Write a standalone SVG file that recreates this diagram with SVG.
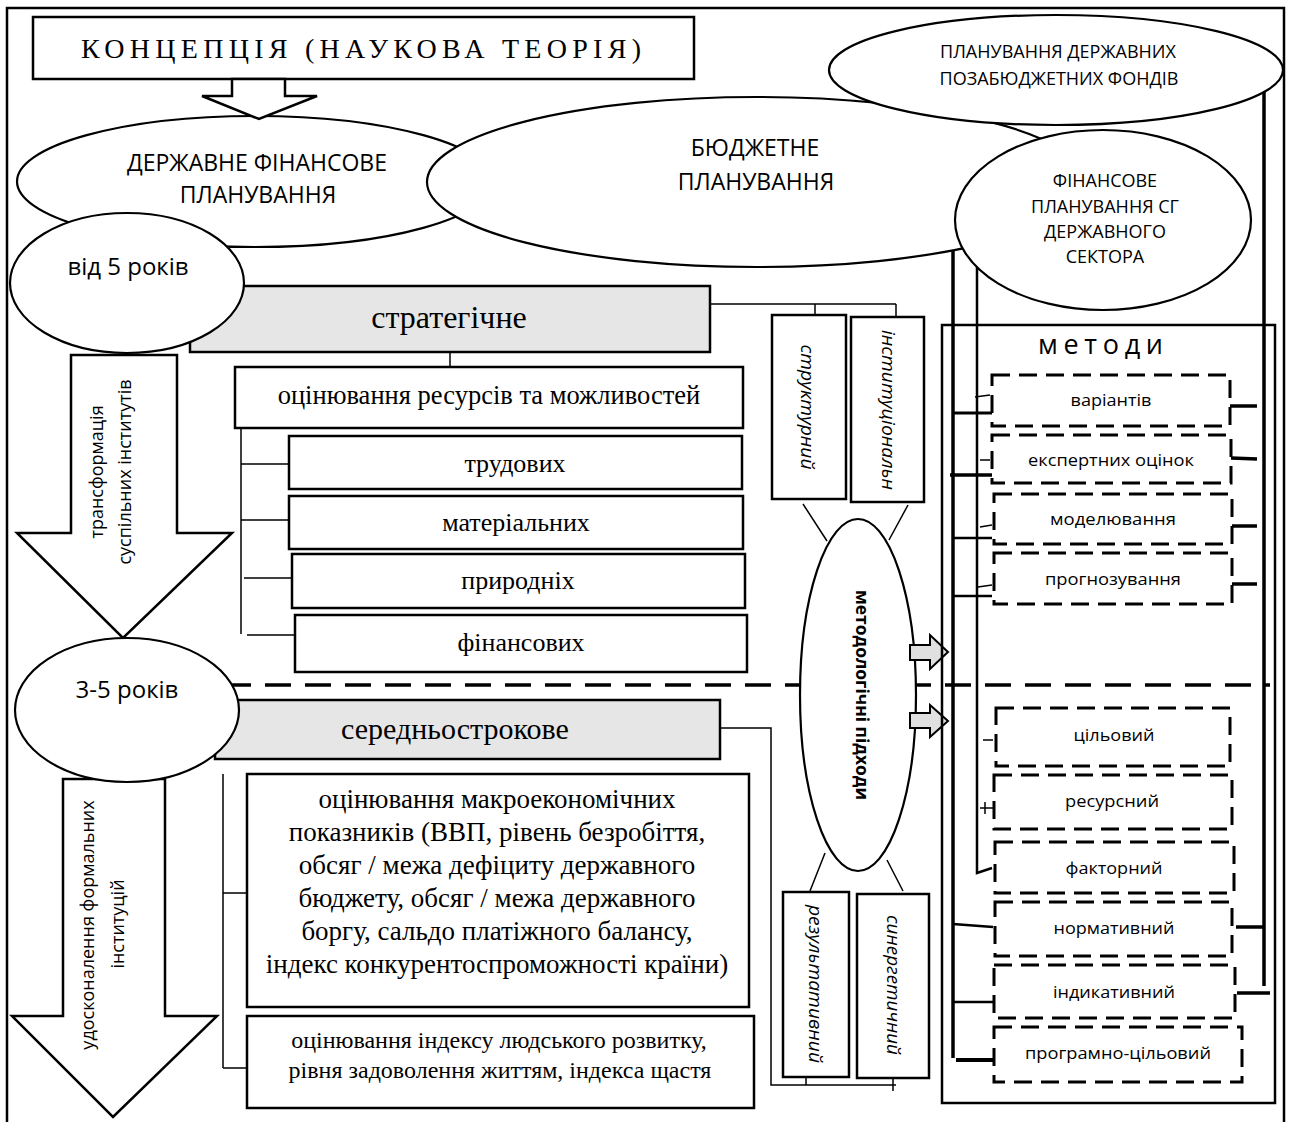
<svg xmlns="http://www.w3.org/2000/svg" width="1292" height="1122" viewBox="0 0 1292 1122">
<style>
.bx{fill:#fff;stroke:#000;stroke-width:2.5}
.gb{fill:#e6e6e6;stroke:#000;stroke-width:2.5}
.el{fill:#fff;stroke:#000;stroke-width:2.2}
.ds{fill:#fff;stroke:#000;stroke-width:3;stroke-dasharray:18 9}
.ln{stroke:#000;fill:none;stroke-width:1.5}
.th{stroke:#000;fill:none;stroke-width:3.5}
.md{stroke:#000;fill:none;stroke-width:2.5}
.ga{fill:#e0e0e0;stroke:#000;stroke-width:2}
.s{font-family:"Open Sans","Noto Sans","DejaVu Sans",sans-serif;fill:#000}
.r{font-family:"Liberation Serif","Times New Roman",serif;fill:#000}
.c{text-anchor:middle}
.i{font-style:italic}
</style>
<rect width="1292" height="1122" fill="#fff"/>
<g id="frame"><path d="M7,1122 V8 H1284 V1122" fill="none" stroke="#000" stroke-width="2.5"/></g>

<g id="connectors">
<path class="ln" d="M710,304 H896 M815,304 V316 M896,304 V318"/>
<path class="ln" d="M450,352 V367"/>
<path class="ln" d="M241,428 V634 M241,464 H289 M241,520 H289 M244,578 H292 M247,635 H295"/>
<path class="ln" d="M803,504 L827,541 M908,505 L889,540 M825,853 L810,891 M887,860 L903,891"/>
<path class="ln" d="M720,728 H771 V1085 H896 M806,1085 V1077 M893,1078 V1091"/>
<path class="ln" d="M223,774 V1068 M223,893 H247 M223,1068 H247"/>
<path d="M225,685 H1270" stroke="#000" stroke-width="3.5" stroke-dasharray="26 14" fill="none"/>
<path class="th" d="M953,250 V1058"/>
<path class="md" d="M977,267 V873 L992,868"/>
<path class="th" d="M1264,92 V986"/>
<path stroke="#000" stroke-width="3" d="M953,413 H992"/>
<path class="th" d="M950,475 H992"/>
<path class="md" d="M953,538 H992 M953,596 H992 M953,924 L993,927 M953,1002 H993"/>
<path stroke="#000" stroke-width="4" d="M956,1060 H993"/>
<path class="ln" d="M975,397 L990,395 M980,460 H990 M980,527 L992,525 M978,587 L992,585 M983,740 H993 M980,808 H995 M985,802 V814"/>
<path class="th" d="M1230,406 H1257 M1231,458 L1257,459 M1232,526 H1257 M1232,584 H1257 M1236,927 H1264 M1237,993 H1270"/>
</g>

<g id="n-derzh"><ellipse class="el" cx="255" cy="181.5" rx="238" ry="65.5"/>
<text class="s c" x="257" y="171" font-size="23">ДЕРЖАВНЕ ФІНАНСОВЕ</text>
<text class="s c" x="258" y="203" font-size="23">ПЛАНУВАННЯ</text></g>
<g id="n-budzh"><ellipse class="el" cx="757" cy="182" rx="330" ry="85"/>
<text class="s c" x="755" y="156" font-size="23">БЮДЖЕТНЕ</text>
<text class="s c" x="756" y="190" font-size="23">ПЛАНУВАННЯ</text></g>
<g id="n-fondy"><ellipse class="el" cx="1056" cy="70" rx="227" ry="55"/>
<text class="s c" x="1058" y="58" font-size="18">ПЛАНУВАННЯ ДЕРЖАВНИХ</text>
<text class="s c" x="1059" y="85" font-size="18">ПОЗАБЮДЖЕТНИХ ФОНДІВ</text></g>
<g id="n-sg"><ellipse class="el" cx="1103" cy="220" rx="148" ry="90"/>
<text class="s c" x="1105" y="187" font-size="18">ФІНАНСОВЕ</text>
<text class="s c" x="1105" y="213" font-size="18">ПЛАНУВАННЯ СГ</text>
<text class="s c" x="1105" y="238" font-size="18">ДЕРЖАВНОГО</text>
<text class="s c" x="1105" y="263" font-size="18">СЕКТОРА</text></g>

<g id="n-koncep"><rect class="bx" x="33" y="17" width="661" height="62" stroke-width="3"/>
<text class="r c" x="361" y="58" font-size="28" textLength="560" lengthAdjust="spacing">КОНЦЕПЦІЯ (НАУКОВА ТЕОРІЯ)</text>
<polygon class="bx" points="232,79 285,79 285,96 317,96 259,119 202,96 232,96"/></g>

<g id="n-strat"><rect class="gb" x="190" y="286" width="520" height="66"/>
<text class="r c" x="449" y="328" font-size="32">стратегічне</text></g>

<g id="n-arrow1"><polygon class="bx" points="71,355 177,355 177,533 232,533 123,638 17,533 71,533"/>
<text class="s c" font-size="18" transform="translate(97,472) rotate(-90)" dy="0.35em">трансформація</text>
<text class="s c" font-size="18" transform="translate(125,472) rotate(-90)" dy="0.35em">суспільних інститутів</text></g>

<g id="n-5"><ellipse class="el" cx="127" cy="283" rx="117" ry="70"/>
<text class="s c" x="128" y="275" font-size="24">від 5 років</text></g>

<g id="n-ocin"><rect class="bx" x="235" y="367" width="508" height="61"/>
<text class="r c" x="489" y="404" font-size="26.5">оцінювання ресурсів та можливостей</text></g>
<g id="n-trud"><rect class="bx" x="289" y="436" width="453" height="53"/>
<text class="r c" x="515" y="472" font-size="26">трудових</text></g>
<g id="n-mat"><rect class="bx" x="289" y="496" width="454" height="53"/>
<text class="r c" x="516" y="531" font-size="26">матеріальних</text></g>
<g id="n-pryr"><rect class="bx" x="292" y="554" width="453" height="54"/>
<text class="r c" x="518" y="589" font-size="26">природніх</text></g>
<g id="n-fin"><rect class="bx" x="295" y="615" width="452" height="57"/>
<text class="r c" x="521" y="651" font-size="26">фінансових</text></g>

<g id="n-struct"><rect class="bx" x="772" y="315" width="74" height="184"/>
<text class="s c i" font-size="19" transform="translate(808,407) rotate(90)" dy="0.35em" textLength="125" lengthAdjust="spacingAndGlyphs">структурний</text></g>
<g id="n-inst"><rect class="bx" x="851" y="317" width="73" height="185"/>
<text class="s c i" font-size="19" transform="translate(889,410) rotate(90)" dy="0.35em" textLength="160" lengthAdjust="spacingAndGlyphs">інституціональн</text></g>
<g id="n-rez"><rect class="bx" x="783" y="892" width="66" height="185"/>
<text class="s c i" font-size="19" transform="translate(816,984) rotate(90)" dy="0.35em" textLength="158" lengthAdjust="spacingAndGlyphs">результативний</text></g>
<g id="n-syn"><rect class="bx" x="857" y="894" width="72" height="184"/>
<text class="s c i" font-size="19" transform="translate(894,985) rotate(90)" dy="0.35em" textLength="140" lengthAdjust="spacingAndGlyphs">синергетичний</text></g>

<g id="n-metod"><ellipse class="el" cx="858" cy="695" rx="58" ry="176"/>
<text class="s c" font-size="17" font-weight="bold" transform="translate(862,695) rotate(90)" dy="0.35em" textLength="210" lengthAdjust="spacingAndGlyphs">методологічні підходи</text></g>

<g id="n-arrows-gray">
<polygon class="ga" points="910,645 930,645 930,635 948,652 930,669 930,660 910,660"/>
<polygon class="ga" points="910,713 930,713 930,705 948,721 930,737 930,728 910,728"/>
</g>

<g id="n-methods"><rect x="942" y="325" width="333" height="778" fill="none" stroke="#000" stroke-width="2.5"/>
<text class="s" x="1038" y="354" font-size="27" textLength="125" lengthAdjust="spacing">методи</text></g>
<g id="m1"><rect class="ds" x="992" y="375" width="238" height="51"/><text class="s c" x="1111" y="406" font-size="17" textLength="81" lengthAdjust="spacingAndGlyphs">варіантів</text></g>
<g id="m2"><rect class="ds" x="992" y="435" width="239" height="48"/><text class="s c" x="1111" y="466" font-size="17" textLength="166" lengthAdjust="spacingAndGlyphs">експертних оцінок</text></g>
<g id="m3"><rect class="ds" x="994" y="494" width="238" height="50"/><text class="s c" x="1113" y="525" font-size="17" textLength="126" lengthAdjust="spacingAndGlyphs">моделювання</text></g>
<g id="m4"><rect class="ds" x="994" y="553" width="238" height="51"/><text class="s c" x="1113" y="585" font-size="17" textLength="136" lengthAdjust="spacingAndGlyphs">прогнозування</text></g>
<g id="m5"><rect class="ds" x="996" y="708" width="234" height="58"/><text class="s c" x="1114" y="741" font-size="17" textLength="81" lengthAdjust="spacingAndGlyphs">цільовий</text></g>
<g id="m6"><rect class="ds" x="994" y="775" width="238" height="54"/><text class="s c" x="1112" y="807" font-size="17" textLength="94" lengthAdjust="spacingAndGlyphs">ресурсний</text></g>
<g id="m7"><rect class="ds" x="995" y="842" width="239" height="51"/><text class="s c" x="1114" y="874" font-size="17" textLength="97" lengthAdjust="spacingAndGlyphs">факторний</text></g>
<g id="m8"><rect class="ds" x="995" y="902" width="237" height="54"/><text class="s c" x="1114" y="934" font-size="17" textLength="121" lengthAdjust="spacingAndGlyphs">нормативний</text></g>
<g id="m9"><rect class="ds" x="994" y="965" width="241" height="53"/><text class="s c" x="1114" y="998" font-size="17" textLength="122" lengthAdjust="spacingAndGlyphs">індикативний</text></g>
<g id="m10"><rect class="ds" x="994" y="1027" width="248" height="55"/><text class="s c" x="1118" y="1059" font-size="17" textLength="186" lengthAdjust="spacingAndGlyphs">програмно-цільовий</text></g>

<g id="n-sered"><rect class="gb" x="215" y="700" width="505" height="59"/>
<text class="r c" x="455" y="739" font-size="30">середньострокове</text></g>

<g id="n-arrow2"><polygon class="bx" points="63,779 165,779 165,1016 217,1016 113,1117 12,1016 63,1016"/>
<text class="s c" font-size="18" transform="translate(88,925) rotate(-90)" dy="0.35em">удосконалення формальних</text>
<text class="s c" font-size="18" transform="translate(118,924) rotate(-90)" dy="0.35em">інституцій</text></g>

<g id="n-35"><ellipse class="el" cx="127" cy="710" rx="112" ry="72"/>
<text class="s c" x="127" y="698" font-size="24">3-5 років</text></g>

<g id="n-macro"><rect class="bx" x="247" y="774" width="502" height="233"/>
<text class="r c" font-size="27" x="497" y="808">оцінювання макроекономічних</text>
<text class="r c" font-size="27" x="497" y="841">показників (ВВП, рівень безробіття,</text>
<text class="r c" font-size="27" x="497" y="874">обсяг / межа дефіциту державного</text>
<text class="r c" font-size="27" x="497" y="907">бюджету, обсяг / межа державного</text>
<text class="r c" font-size="27" x="497" y="940">боргу, сальдо платіжного балансу,</text>
<text class="r c" font-size="27" x="497" y="973">індекс конкурентоспроможності країни)</text></g>

<g id="n-human"><rect class="bx" x="247" y="1016" width="507" height="92"/>
<text class="r c" font-size="24" x="499" y="1048">оцінювання індексу людського розвитку,</text>
<text class="r c" font-size="24" x="500" y="1078">рівня задоволення життям, індекса щастя</text></g>
</svg>
